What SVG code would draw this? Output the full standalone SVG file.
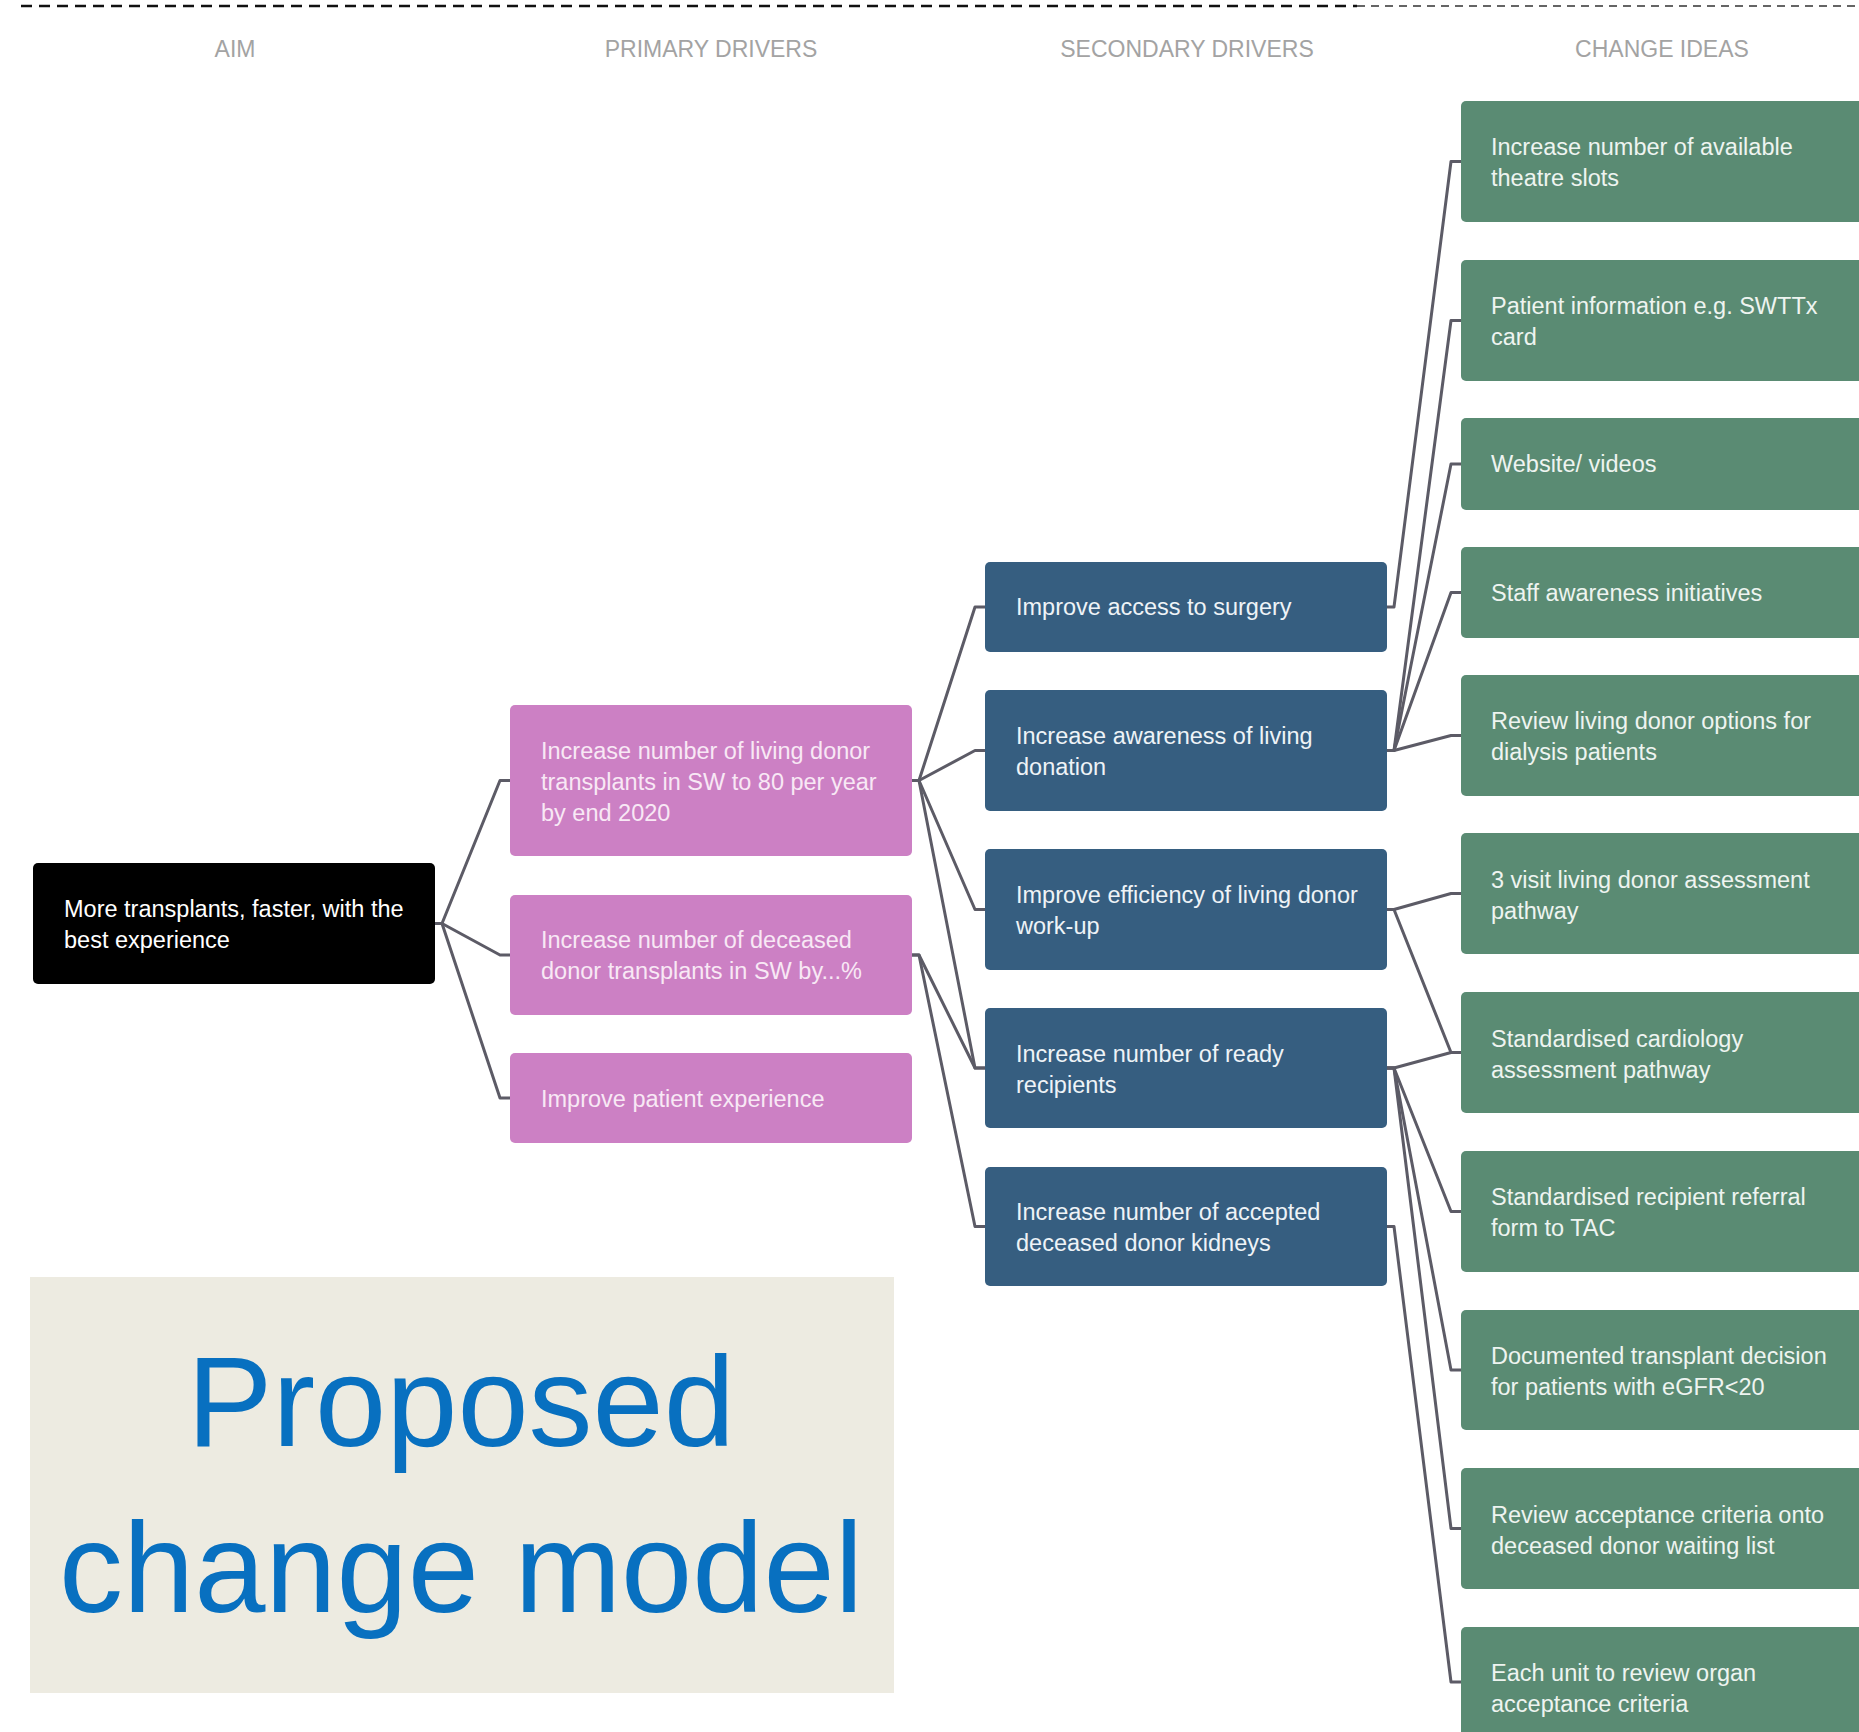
<svg xmlns="http://www.w3.org/2000/svg" width="1859" height="1732" viewBox="0 0 1859 1732">
<style>
text{font-family:"Liberation Sans",Arial,sans-serif;font-size:23.5px}
.hdr{fill:#a3a3a3;font-size:23px;text-anchor:middle}
.aim rect{fill:#000}
.aim text{fill:#fff}
.pri rect{fill:#cc80c4}
.pri text{fill:#f8e8f5}
.sec rect{fill:#365e80}
.sec text{fill:#eef3f7}
.chg rect{fill:#5a8b73}
.chg text{fill:#eef4f0}
.conn path{fill:none;stroke:#5c5b66;stroke-width:3;stroke-linejoin:round}
.title{fill:#0870c0;font-size:128px;text-anchor:middle}
</style>
<rect width="1859" height="1732" fill="#fff"/>
<line x1="21" y1="6" x2="1357" y2="6" stroke="#111" stroke-width="2.5" stroke-dasharray="11 7"/>
<line x1="1357" y1="6" x2="1859" y2="6" stroke="#333" stroke-width="1.4" stroke-dasharray="8 6"/>
<g id="headers">
<text class="hdr" x="235" y="57">AIM</text>
<text class="hdr" x="711" y="57">PRIMARY DRIVERS</text>
<text class="hdr" x="1187" y="57">SECONDARY DRIVERS</text>
<text class="hdr" x="1662" y="57">CHANGE IDEAS</text>
</g>
<g id="connectors" class="conn">
<path d="M435,923.5 h7 L500,780.5 H510"/>
<path d="M435,923.5 h7 L500,955 H510"/>
<path d="M435,923.5 h7 L500,1098 H510"/>
<path d="M912,780.5 h7 L975,607 H985"/>
<path d="M912,780.5 h7 L975,750.5 H985"/>
<path d="M912,780.5 h7 L975,909.5 H985"/>
<path d="M912,780.5 h7 L975,1068 H985"/>
<path d="M912,955 h7 L975,1068 H985"/>
<path d="M912,955 h7 L975,1226.5 H985"/>
<path d="M1387,607 h7 L1451,161.5 H1461"/>
<path d="M1387,750.5 h7 L1451,320.5 H1461"/>
<path d="M1387,750.5 h7 L1451,464 H1461"/>
<path d="M1387,750.5 h7 L1451,592.5 H1461"/>
<path d="M1387,750.5 h7 L1451,735.5 H1461"/>
<path d="M1387,909.5 h7 L1451,893.5 H1461"/>
<path d="M1387,909.5 h7 L1451,1052.5 H1461"/>
<path d="M1387,1068 h7 L1451,1052.5 H1461"/>
<path d="M1387,1068 h7 L1451,1211.5 H1461"/>
<path d="M1387,1068 h7 L1451,1370 H1461"/>
<path d="M1387,1068 h7 L1451,1528.5 H1461"/>
<path d="M1387,1226.5 h7 L1451,1682 H1461"/>
</g>
<g id="aim" class="aim">
<rect x="33" y="863" width="402" height="121" rx="5"/>
<text x="64" y="917">More transplants, faster, with the</text>
<text x="64" y="948">best experience</text>
</g>
<g id="p1" class="pri">
<rect x="510" y="705" width="402" height="151" rx="5"/>
<text x="541" y="759">Increase number of living donor</text>
<text x="541" y="790">transplants in SW to 80 per year</text>
<text x="541" y="821">by end 2020</text>
</g>
<g id="p2" class="pri">
<rect x="510" y="895" width="402" height="120" rx="5"/>
<text x="541" y="948">Increase number of deceased</text>
<text x="541" y="979">donor transplants in SW by...%</text>
</g>
<g id="p3" class="pri">
<rect x="510" y="1053" width="402" height="90" rx="5"/>
<text x="541" y="1107">Improve patient experience</text>
</g>
<g id="s1" class="sec">
<rect x="985" y="562" width="402" height="90" rx="5"/>
<text x="1016" y="615">Improve access to surgery</text>
</g>
<g id="s2" class="sec">
<rect x="985" y="690" width="402" height="121" rx="5"/>
<text x="1016" y="744">Increase awareness of living</text>
<text x="1016" y="775">donation</text>
</g>
<g id="s3" class="sec">
<rect x="985" y="849" width="402" height="121" rx="5"/>
<text x="1016" y="903">Improve efficiency of living donor</text>
<text x="1016" y="934">work-up</text>
</g>
<g id="s4" class="sec">
<rect x="985" y="1008" width="402" height="120" rx="5"/>
<text x="1016" y="1062">Increase number of ready</text>
<text x="1016" y="1093">recipients</text>
</g>
<g id="s5" class="sec">
<rect x="985" y="1167" width="402" height="119" rx="5"/>
<text x="1016" y="1220">Increase number of accepted</text>
<text x="1016" y="1251">deceased donor kidneys</text>
</g>
<g id="g1" class="chg">
<rect x="1461" y="101" width="420" height="121" rx="5"/>
<text x="1491" y="155">Increase number of available</text>
<text x="1491" y="186">theatre slots</text>
</g>
<g id="g2" class="chg">
<rect x="1461" y="260" width="420" height="121" rx="5"/>
<text x="1491" y="314">Patient information e.g. SWTTx</text>
<text x="1491" y="345">card</text>
</g>
<g id="g3" class="chg">
<rect x="1461" y="418" width="420" height="92" rx="5"/>
<text x="1491" y="472">Website/ videos</text>
</g>
<g id="g4" class="chg">
<rect x="1461" y="547" width="420" height="91" rx="5"/>
<text x="1491" y="601">Staff awareness initiatives</text>
</g>
<g id="g5" class="chg">
<rect x="1461" y="675" width="420" height="121" rx="5"/>
<text x="1491" y="729">Review living donor options for</text>
<text x="1491" y="760">dialysis patients</text>
</g>
<g id="g6" class="chg">
<rect x="1461" y="833" width="420" height="121" rx="5"/>
<text x="1491" y="888">3 visit living donor assessment</text>
<text x="1491" y="919">pathway</text>
</g>
<g id="g7" class="chg">
<rect x="1461" y="992" width="420" height="121" rx="5"/>
<text x="1491" y="1047">Standardised cardiology</text>
<text x="1491" y="1078">assessment pathway</text>
</g>
<g id="g8" class="chg">
<rect x="1461" y="1151" width="420" height="121" rx="5"/>
<text x="1491" y="1205">Standardised recipient referral</text>
<text x="1491" y="1236">form to TAC</text>
</g>
<g id="g9" class="chg">
<rect x="1461" y="1310" width="420" height="120" rx="5"/>
<text x="1491" y="1364">Documented transplant decision</text>
<text x="1491" y="1395">for patients with eGFR&lt;20</text>
</g>
<g id="g10" class="chg">
<rect x="1461" y="1468" width="420" height="121" rx="5"/>
<text x="1491" y="1523">Review acceptance criteria onto</text>
<text x="1491" y="1554">deceased donor waiting list</text>
</g>
<g id="g11" class="chg">
<rect x="1461" y="1627" width="420" height="120" rx="5"/>
<text x="1491" y="1681">Each unit to review organ</text>
<text x="1491" y="1712">acceptance criteria</text>
</g>
<g id="label">
<rect x="30" y="1277" width="864" height="416" fill="#edebe1"/>
<text class="title" x="461" y="1446">Proposed</text>
<text class="title" x="461" y="1612">change model</text>
</g>
</svg>
